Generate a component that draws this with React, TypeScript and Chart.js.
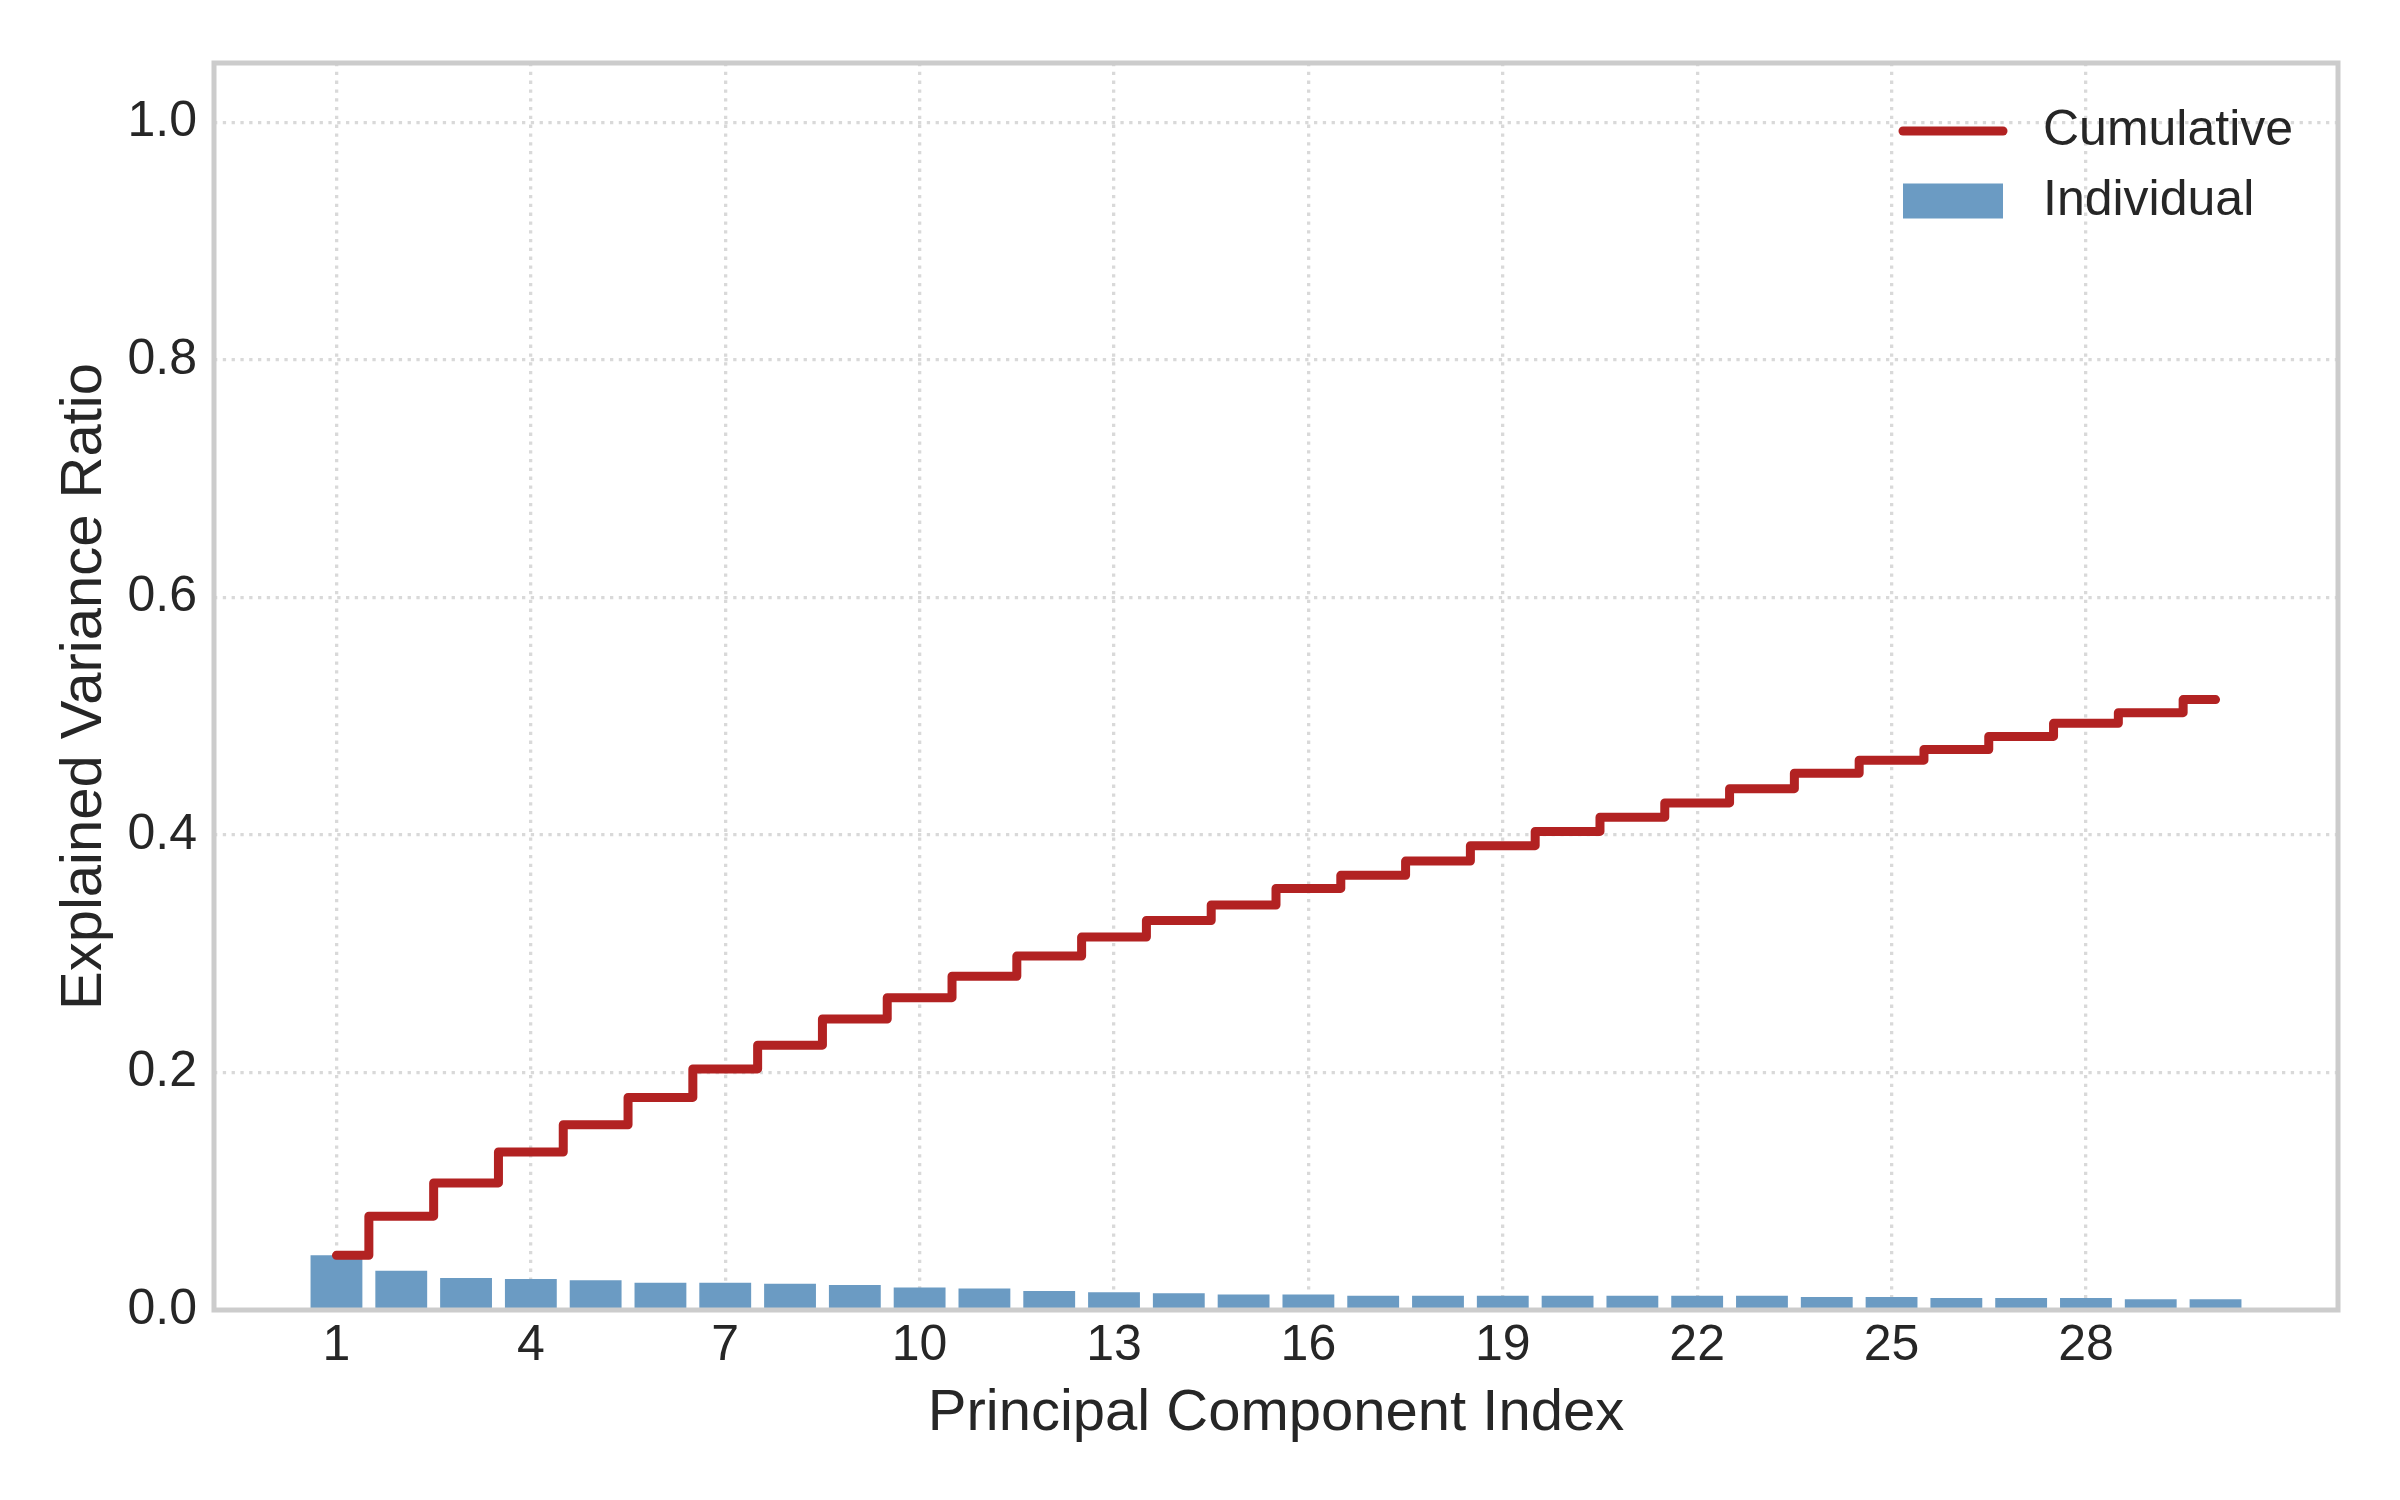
import React, { useEffect, useRef } from "react";
import { Chart, registerables } from "chart.js";

Chart.register(...registerables);

// ---- data ----
const components = [
  1, 2, 3, 4, 5, 6, 7, 8, 9, 10, 11, 12, 13, 14, 15, 16, 17, 18, 19, 20, 21, 22, 23, 24, 25, 26, 27, 28, 29, 30,
];
const individual = [
  0.046, 0.033, 0.027, 0.026, 0.025, 0.023, 0.023, 0.022, 0.021, 0.019, 0.018, 0.016, 0.015, 0.014, 0.013,
  0.013, 0.012, 0.012, 0.012, 0.012, 0.012, 0.012, 0.012, 0.011, 0.011, 0.010, 0.010, 0.010, 0.009, 0.009,
];
const cumulative = [
  0.046, 0.079, 0.107, 0.133, 0.156, 0.179, 0.203, 0.223, 0.245, 0.263, 0.281, 0.298, 0.314, 0.328, 0.341,
  0.355, 0.366, 0.378, 0.391, 0.403, 0.415, 0.427, 0.439, 0.452, 0.463, 0.472, 0.483, 0.494, 0.503, 0.514,
];
const xTickValues = [1, 4, 7, 10, 13, 16, 19, 22, 25, 28];
const yTickValues = [0, 0.2, 0.4, 0.6, 0.8, 1.0];
const seriesNames = ["Cumulative", "Individual"];
const xTitle = "Principal Component Index";
const yTitle = "Explained Variance Ratio";

const FONT = "'Liberation Sans', Arial, sans-serif";
const TEXT = "#262626";
const LINE_COLOR = "#b22222";
const BAR_COLOR = "#6b9bc3";
const GRID_COLOR = "#d9d9d9";

const framePlugin = {
  id: "frame",
  afterDatasetsDraw(chart: any) {
    const { ctx, chartArea: a } = chart;
    ctx.save();
    ctx.strokeStyle = "#cccccc";
    ctx.lineWidth = 5;
    ctx.strokeRect(a.left, a.top, a.right - a.left, a.bottom - a.top);
    ctx.restore();
  },
};

const legendPlugin = {
  id: "mplLegend",
  afterDraw(chart: any) {
    const { ctx, chartArea: a } = chart;
    const textX = a.right - 295;
    const handleR = textX - 40;
    const handleL = handleR - 100;
    const y1 = a.top + 68;
    const y2 = a.top + 138;
    ctx.save();
    ctx.strokeStyle = LINE_COLOR;
    ctx.lineWidth = 9;
    ctx.lineCap = "round";
    ctx.beginPath();
    ctx.moveTo(handleL, y1);
    ctx.lineTo(handleR, y1);
    ctx.stroke();
    ctx.fillStyle = BAR_COLOR;
    ctx.fillRect(handleL, y2 - 17.5, 100, 35);
    ctx.fillStyle = TEXT;
    ctx.font = `50px ${FONT}`;
    ctx.textAlign = "left";
    ctx.textBaseline = "middle";
    ctx.fillText(seriesNames[0], textX, y1);
    ctx.fillText(seriesNames[1], textX, y2);
    ctx.restore();
  },
};

export default function App() {
  const ref = useRef<HTMLCanvasElement | null>(null);

  useEffect(() => {
    if (!ref.current) return;
    const chart = new Chart(ref.current, {
      type: "bar",
      data: {
        datasets: [
          {
            type: "line",
            label: seriesNames[0],
            data: cumulative.map((y, i) => ({ x: components[i], y })),
            borderColor: LINE_COLOR,
            borderWidth: 9,
            stepped: "middle",
            pointRadius: 0,
            fill: false,
            borderCapStyle: "round",
            borderJoinStyle: "round",
            order: 0,
          } as any,
          {
            type: "bar",
            label: seriesNames[1],
            data: individual.map((y, i) => ({ x: components[i], y })),
            backgroundColor: BAR_COLOR,
            borderWidth: 0,
            barPercentage: 0.8,
            categoryPercentage: 1.0,
            order: 1,
          } as any,
        ],
      },
      options: {
        responsive: false,
        animation: false,
        devicePixelRatio: 1,
        layout: { padding: { left: 0, top: 63, right: 62, bottom: 0 } },
        plugins: { legend: { display: false }, tooltip: { enabled: false } },
        scales: {
          x: {
            type: "linear",
            min: -0.89,
            max: 31.89,
            offset: false,
            afterBuildTicks: (s: any) => {
              s.ticks = xTickValues.map((v) => ({ value: v }));
            },
            afterFit: (s: any) => {
              s.height = 190;
            },
            ticks: {
              font: { family: FONT, size: 50 },
              color: TEXT,
              padding: 6,
              maxRotation: 0,
              autoSkip: false,
              callback: (v: any) => String(v),
            },
            grid: { color: GRID_COLOR, lineWidth: 3.3, drawTicks: false, offset: false },
            border: { display: false, dash: [3.3, 5.5] },
            title: {
              display: true,
              text: xTitle,
              color: TEXT,
              font: { family: FONT, size: 58 },
              padding: { top: 0, bottom: 51 },
            },
          },
          y: {
            type: "linear",
            min: 0,
            max: 1.05,
            afterBuildTicks: (s: any) => {
              s.ticks = yTickValues.map((v) => ({ value: v }));
            },
            afterFit: (s: any) => {
              s.width = 214;
            },
            ticks: {
              font: { family: FONT, size: 50 },
              color: TEXT,
              padding: 17,
              callback: (v: any) => Number(v).toFixed(1),
            },
            grid: { color: GRID_COLOR, lineWidth: 3.3, drawTicks: false, offset: false },
            border: { display: false, dash: [3.3, 5.5] },
            title: {
              display: true,
              text: yTitle,
              color: TEXT,
              font: { family: FONT, size: 58 },
              padding: { top: 50, bottom: 0 },
            },
          },
        },
      } as any,
      plugins: [framePlugin, legendPlugin],
    });
    return () => chart.destroy();
  }, []);

  return (
    <div style={{ position: "absolute", left: 0, top: 0, width: 2400, height: 1500, background: "#ffffff" }}>
      <canvas ref={ref} width={2400} height={1500} style={{ display: "block", width: 2400, height: 1500 }} />
    </div>
  );
}
